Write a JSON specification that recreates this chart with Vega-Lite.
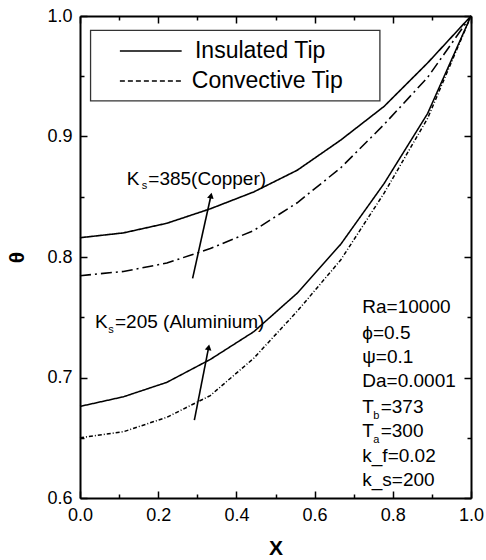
{
  "$schema": "https://vega.github.io/schema/vega-lite/v6.json",
  "autosize": "none",
  "width": 391,
  "height": 482,
  "padding": {"left": 80, "top": 16, "right": 15, "bottom": 62},
  "background": "white",
  "config": {
    "view": {"stroke": null},
    "font": "Liberation Sans",
    "axis": {
      "grid": false,
      "domainColor": "black",
      "domainWidth": 2,
      "tickColor": "black",
      "tickWidth": 1.5,
      "labelColor": "black",
      "labelFont": "Liberation Sans",
      "labelFontSize": 18,
      "titleFont": "Liberation Sans",
      "titleColor": "black",
      "titleFontWeight": "bold",
      "titleFontSize": 21
    }
  },
  "datasets": {
    "curves": [
      {"x": 0.0, "theta": 0.816, "series": "Cu insulated"},
      {"x": 0.1111, "theta": 0.820, "series": "Cu insulated"},
      {"x": 0.2222, "theta": 0.828, "series": "Cu insulated"},
      {"x": 0.3333, "theta": 0.840, "series": "Cu insulated"},
      {"x": 0.4444, "theta": 0.854, "series": "Cu insulated"},
      {"x": 0.5556, "theta": 0.872, "series": "Cu insulated"},
      {"x": 0.6667, "theta": 0.897, "series": "Cu insulated"},
      {"x": 0.7778, "theta": 0.925, "series": "Cu insulated"},
      {"x": 0.8889, "theta": 0.961, "series": "Cu insulated"},
      {"x": 1.0, "theta": 1.0, "series": "Cu insulated"},
      {"x": 0.0, "theta": 0.7845, "series": "Cu convective"},
      {"x": 0.1111, "theta": 0.788, "series": "Cu convective"},
      {"x": 0.2222, "theta": 0.795, "series": "Cu convective"},
      {"x": 0.3333, "theta": 0.807, "series": "Cu convective"},
      {"x": 0.4444, "theta": 0.822, "series": "Cu convective"},
      {"x": 0.5556, "theta": 0.845, "series": "Cu convective"},
      {"x": 0.6667, "theta": 0.874, "series": "Cu convective"},
      {"x": 0.7778, "theta": 0.910, "series": "Cu convective"},
      {"x": 0.8889, "theta": 0.949, "series": "Cu convective"},
      {"x": 1.0, "theta": 1.0, "series": "Cu convective"},
      {"x": 0.0, "theta": 0.676, "series": "Al insulated"},
      {"x": 0.1111, "theta": 0.684, "series": "Al insulated"},
      {"x": 0.2222, "theta": 0.696, "series": "Al insulated"},
      {"x": 0.3333, "theta": 0.715, "series": "Al insulated"},
      {"x": 0.4444, "theta": 0.738, "series": "Al insulated"},
      {"x": 0.5556, "theta": 0.770, "series": "Al insulated"},
      {"x": 0.6667, "theta": 0.8105, "series": "Al insulated"},
      {"x": 0.7778, "theta": 0.861, "series": "Al insulated"},
      {"x": 0.8889, "theta": 0.919, "series": "Al insulated"},
      {"x": 1.0, "theta": 1.0, "series": "Al insulated"},
      {"x": 0.0, "theta": 0.650, "series": "Al convective"},
      {"x": 0.1111, "theta": 0.655, "series": "Al convective"},
      {"x": 0.2222, "theta": 0.667, "series": "Al convective"},
      {"x": 0.3333, "theta": 0.685, "series": "Al convective"},
      {"x": 0.4444, "theta": 0.716, "series": "Al convective"},
      {"x": 0.5556, "theta": 0.755, "series": "Al convective"},
      {"x": 0.6667, "theta": 0.7975, "series": "Al convective"},
      {"x": 0.7778, "theta": 0.853, "series": "Al convective"},
      {"x": 0.8889, "theta": 0.915, "series": "Al convective"},
      {"x": 1.0, "theta": 1.0, "series": "Al convective"}
    ],
    "legendBox": [{"x1": 0.027, "x2": 0.767, "y1": 0.9295, "y2": 0.988}],
    "legendSolid": [{"x1": 0.102, "x2": 0.260, "y": 0.971}],
    "legendDashed": [{"x1": 0.102, "x2": 0.260, "y": 0.946}],
    "legendText": [
      {"x": 0.294, "y": 0.971, "label": "Insulated Tip"},
      {"x": 0.286, "y": 0.946, "label": "Convective Tip"}
    ],
    "mainText": [
      {"x": 0.1194, "y": 0.8598, "label": "K"},
      {"x": 0.1747, "y": 0.8598, "label": "=385(Copper)"},
      {"x": 0.0384, "y": 0.7413, "label": "K"},
      {"x": 0.0895, "y": 0.7413, "label": "=205 (Aluminium)"},
      {"x": 0.722, "y": 0.7533, "label": "Ra=10000"},
      {"x": 0.722, "y": 0.7320, "label": "ϕ=0.5"},
      {"x": 0.722, "y": 0.7118, "label": "ψ=0.1"},
      {"x": 0.722, "y": 0.6919, "label": "Da=0.0001"},
      {"x": 0.722, "y": 0.6708, "label": "T"},
      {"x": 0.769, "y": 0.6708, "label": "=373"},
      {"x": 0.722, "y": 0.6509, "label": "T"},
      {"x": 0.769, "y": 0.6509, "label": "=300"},
      {"x": 0.722, "y": 0.6301, "label": "k_f=0.02"},
      {"x": 0.722, "y": 0.6100, "label": "k_s=200"}
    ],
    "subText": [
      {"x": 0.158, "y": 0.8562, "label": "s"},
      {"x": 0.0724, "y": 0.7372, "label": "s"},
      {"x": 0.750, "y": 0.6656, "label": "b"},
      {"x": 0.750, "y": 0.6454, "label": "a"}
    ],
    "arrows": [
      {"x1": 0.288, "y1": 0.7823, "x2": 0.335, "y2": 0.851, "angle": 12},
      {"x1": 0.2925, "y1": 0.6647, "x2": 0.329, "y2": 0.725, "angle": 11}
    ]
  },
  "resolve": {"axis": {"x": "independent", "y": "independent"}},
  "layer": [
    {
      "data": {"name": "curves"},
      "mark": {"type": "line", "color": "black"},
      "encoding": {
        "x": {
          "field": "x", "type": "quantitative",
          "scale": {"domain": [0, 1], "nice": false, "zero": false},
          "axis": {
            "orient": "bottom",
            "title": "X",
            "values": [0, 0.1, 0.2, 0.3, 0.4, 0.5, 0.6, 0.7, 0.8, 0.9, 1.0],
            "labelExpr": "round(datum.value*10)%2==0 ? format(datum.value,'.1f') : ''",
            "tickSize": {"condition": {"test": "round(datum.value*10)%2==0", "value": -7}, "value": -4},
            "labelPadding": 15,
            "titlePadding": 10,
            "labelFlush": false,
            "labelOverlap": false
          }
        },
        "y": {
          "field": "theta", "type": "quantitative",
          "scale": {"domain": [0.6, 1.0], "nice": false, "zero": false},
          "axis": {
            "orient": "left",
            "title": "θ",
            "values": [0.6, 0.65, 0.7, 0.75, 0.8, 0.85, 0.9, 0.95, 1.0],
            "labelExpr": "round(datum.value*100)%10==0 ? format(datum.value,'.1f') : ''",
            "tickSize": {"condition": {"test": "round(datum.value*100)%10==0", "value": -7}, "value": -4},
            "labelPadding": 15,
            "titlePadding": 19,
            "labelFlush": false,
            "labelOverlap": false
          }
        },
        "detail": {"field": "series"},
        "strokeDash": {
          "field": "series", "type": "nominal", "legend": null,
          "scale": {
            "domain": ["Cu insulated", "Cu convective", "Al insulated", "Al convective"],
            "range": [[1, 0], [11, 4, 2, 4], [1, 0], [4, 2, 1, 2]]
          }
        },
        "strokeWidth": {
          "field": "series", "type": "nominal", "legend": null,
          "scale": {
            "domain": ["Cu insulated", "Cu convective", "Al insulated", "Al convective"],
            "range": [1.6, 1.5, 1.6, 0.8]
          }
        }
      }
    },
    {
      "data": {"name": "legendBox"},
      "mark": {"type": "rect", "fill": "white", "stroke": "#333", "strokeWidth": 1.3},
      "encoding": {
        "x": {
          "field": "x1", "type": "quantitative",
          "axis": {
            "orient": "top", "title": null, "labels": false,
            "values": [0, 0.1, 0.2, 0.3, 0.4, 0.5, 0.6, 0.7, 0.8, 0.9, 1.0],
            "tickSize": {"condition": {"test": "round(datum.value*10)%2==0", "value": -7}, "value": -4}
          }
        },
        "x2": {"field": "x2"},
        "y": {
          "field": "y1", "type": "quantitative",
          "axis": {
            "orient": "right", "title": null, "labels": false,
            "values": [0.6, 0.65, 0.7, 0.75, 0.8, 0.85, 0.9, 0.95, 1.0],
            "tickSize": {"condition": {"test": "round(datum.value*100)%10==0", "value": -7}, "value": -4}
          }
        },
        "y2": {"field": "y2"}
      }
    },
    {
      "data": {"name": "legendSolid"},
      "mark": {"type": "rule", "color": "black", "strokeWidth": 1.4},
      "encoding": {
        "x": {"field": "x1", "type": "quantitative", "axis": null},
        "x2": {"field": "x2"},
        "y": {"field": "y", "type": "quantitative", "axis": null}
      }
    },
    {
      "data": {"name": "legendDashed"},
      "mark": {"type": "rule", "color": "black", "strokeWidth": 1.4, "strokeDash": [5, 3]},
      "encoding": {
        "x": {"field": "x1", "type": "quantitative", "axis": null},
        "x2": {"field": "x2"},
        "y": {"field": "y", "type": "quantitative", "axis": null}
      }
    },
    {
      "data": {"name": "legendText"},
      "mark": {"type": "text", "align": "left", "baseline": "middle", "fontSize": 23, "color": "black", "font": "Liberation Sans"},
      "encoding": {
        "x": {"field": "x", "type": "quantitative", "axis": null},
        "y": {"field": "y", "type": "quantitative", "axis": null},
        "text": {"field": "label"}
      }
    },
    {
      "data": {"name": "mainText"},
      "mark": {"type": "text", "align": "left", "baseline": "alphabetic", "fontSize": 19, "color": "black", "font": "Liberation Sans"},
      "encoding": {
        "x": {"field": "x", "type": "quantitative", "axis": null},
        "y": {"field": "y", "type": "quantitative", "axis": null},
        "text": {"field": "label"}
      }
    },
    {
      "data": {"name": "subText"},
      "mark": {"type": "text", "align": "left", "baseline": "alphabetic", "fontSize": 11, "color": "black", "font": "Liberation Sans"},
      "encoding": {
        "x": {"field": "x", "type": "quantitative", "axis": null},
        "y": {"field": "y", "type": "quantitative", "axis": null},
        "text": {"field": "label"}
      }
    },
    {
      "data": {"name": "arrows"},
      "mark": {"type": "rule", "color": "black", "strokeWidth": 1.6},
      "encoding": {
        "x": {"field": "x1", "type": "quantitative", "axis": null},
        "y": {"field": "y1", "type": "quantitative", "axis": null},
        "x2": {"field": "x2"},
        "y2": {"field": "y2"}
      }
    },
    {
      "data": {"name": "arrows"},
      "mark": {"type": "point", "shape": "triangle-up", "filled": true, "color": "black", "opacity": 1, "size": 45},
      "encoding": {
        "x": {"field": "x2", "type": "quantitative", "axis": null},
        "y": {"field": "y2", "type": "quantitative", "axis": null},
        "angle": {"field": "angle", "type": "quantitative", "scale": null}
      }
    }
  ]
}
